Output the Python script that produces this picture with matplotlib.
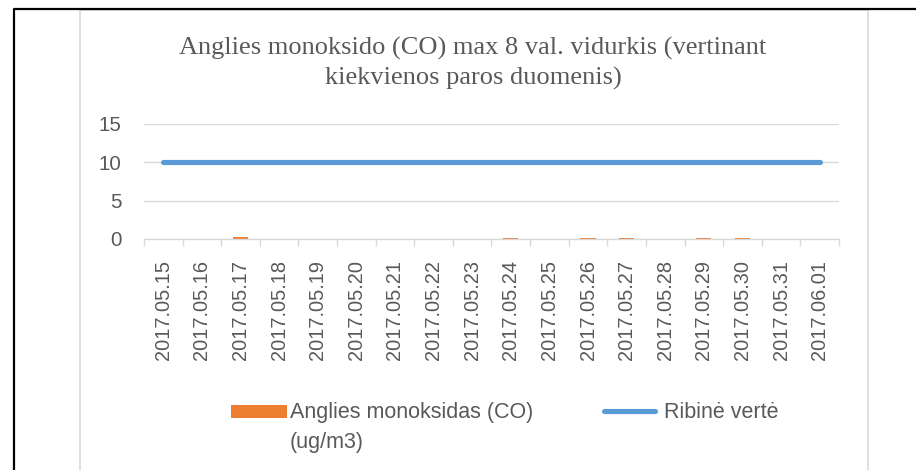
import matplotlib
matplotlib.use('Agg')
import matplotlib.pyplot as plt
from matplotlib.lines import Line2D
from matplotlib.patches import Rectangle

# data
dates = ['2017.05.15', '2017.05.16', '2017.05.17', '2017.05.18', '2017.05.19', '2017.05.20',
         '2017.05.21', '2017.05.22', '2017.05.23', '2017.05.24', '2017.05.25', '2017.05.26',
         '2017.05.27', '2017.05.28', '2017.05.29', '2017.05.30', '2017.05.31', '2017.06.01']
co_values = [0, 0, 0.2, 0, 0, 0, 0, 0, 0, 0.1, 0, 0.07, 0.07, 0, 0.1, 0.1, 0, 0]
limit_values = [10] * 18
yticks = [0, 5, 10, 15]

title = 'Anglies monoksido (CO) max 8 val. vidurkis (vertinant\nkiekvienos paros duomenis)'
bar_label = 'Anglies monoksidas (CO)\n(ug/m3)'
line_label = 'Ribinė vertė'

orange = '#ED7D31'
blue = '#5B9BD5'
grid_c = '#D9D9D9'
txt_c = '#595959'

W, H = 916, 470
fig = plt.figure(figsize=(W / 100, H / 100), dpi=100)

def fx(px): return px / W
def fy(py): return 1 - py / H

ax = fig.add_axes([fx(144), fy(239), fx(839) - fx(144), fy(124) - fy(239)])
x = list(range(len(dates)))
ax.bar(x, co_values, width=0.39, color=orange, zorder=2)
ax.plot(x, limit_values, color=blue, lw=3.7, solid_capstyle='round', zorder=3)

ax.set_xlim(-0.5, len(dates) - 0.5)
ax.set_ylim(0, 15)
ax.set_yticks(yticks)
ax.set_xticks(x)
ax.set_xticklabels(dates, rotation=90, fontsize=14.4, color=txt_c, family='Liberation Sans')
ax.set_xticks([i - 0.5 for i in range(len(dates) + 1)], minor=True)
ax.tick_params(axis='x', which='major', length=0, pad=15)
ax.tick_params(axis='x', which='minor', length=5, width=1, color=grid_c)
ax.tick_params(axis='y', length=0, pad=16, labelsize=14.8, labelcolor=txt_c)
for lab in ax.get_yticklabels():
    lab.set_family('Liberation Sans')
ax.grid(axis='y', color=grid_c, lw=1, zorder=0)
ax.set_axisbelow(True)
for s in ['top', 'right', 'left']:
    ax.spines[s].set_visible(False)
ax.spines['bottom'].set_color(grid_c)
ax.spines['bottom'].set_linewidth(1)

# title, one baseline per line
for i, line in enumerate(title.split('\n')):
    fig.text(fx(473), fy(55 + 30 * i), line, ha='center', va='baseline', fontsize=19,
             family='Liberation Serif', color=txt_c)

# legend
fig.add_artist(Rectangle((fx(231), fy(418)), fx(287) - fx(231), fy(405) - fy(418),
                         transform=fig.transFigure, color=orange, lw=0))
for i, line in enumerate(bar_label.split('\n')):
    fig.text(fx(290), fy(418 + 30 * i), line, ha='left', va='baseline', fontsize=15.5,
             family='Liberation Sans', color=txt_c)
fig.add_artist(Line2D([fx(604), fx(655)], [fy(411), fy(411)], transform=fig.transFigure,
                      color=blue, lw=3.7, solid_capstyle='round'))
fig.text(fx(664), fy(418), line_label, ha='left', va='baseline', fontsize=15.5,
         family='Liberation Sans', color=txt_c)

# chart frame and outer table border
fig.add_artist(Line2D([fx(80), fx(80), fx(868), fx(868)], [0, fy(10), fy(10), 0],
                      transform=fig.transFigure, color=grid_c, lw=1.2))
fig.add_artist(Line2D([fx(14), fx(14), 1], [0, fy(9), fy(9)],
                      transform=fig.transFigure, color='black', lw=1.6))

fig.savefig('out.png', dpi=100)
